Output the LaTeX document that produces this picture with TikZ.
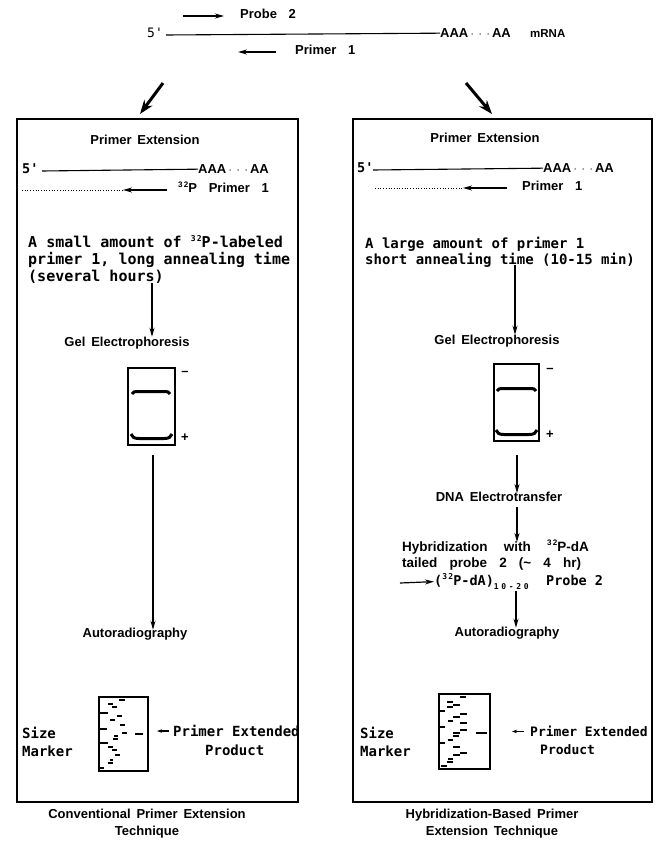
\documentclass[tikz,border=0pt]{standalone}
\usepackage{fontspec}
\setmainfont{Liberation Sans}
\newfontfamily\monof{DejaVu Sans Mono}
\usetikzlibrary{arrows.meta}
\newcommand\supr[1]{\raisebox{0.8ex}{\fontsize{8}{8}\selectfont #1}}
\newcommand\subr[1]{\raisebox{-0.5ex}{\fontsize{8}{8}\selectfont #1}}
\newcommand\wsp{\hspace{0.45em}}
\newcommand\wwsp{\hspace{0.9em}}
\begin{document}
\begin{tikzpicture}[x=1pt,y=-1pt,
  sb/.style={font=\bfseries\fontsize{13}{15}\selectfont, inner sep=0pt},
  mt/.style={font=\monof\bfseries\fontsize{15}{17}\selectfont, inner sep=0pt, align=left},
  mtr/.style={font=\monof\bfseries\fontsize{13.5}{15.5}\selectfont, inner sep=0pt, align=left},
  arr/.style={-{Stealth[length=9pt,width=5pt]}, line width=1.2pt},
  bigarr/.style={-{Stealth[length=14pt,width=10pt]}, line width=3pt},
  frame/.style={draw, line width=1.1pt},
  gelbox/.style={draw, line width=1.6pt, inner sep=0pt},
  band/.style={line width=3pt},
  dots/.style={line width=0.7pt, dash pattern=on 0.8pt off 1.9pt},
  strand/.style={line width=1.1pt}
]
\useasboundingbox (0,0) rectangle (661,843);

% ---------------- top: mRNA ----------------
\coordinate (p2a) at (183,16); \coordinate (p2b) at (224,16);
\draw[arr] (p2a) -- (p2b);
\node[sb, anchor=mid west] (probe2) at (240,16) {Probe\wwsp 2};
\node[mt, font=\monof\fontsize{13}{15}\selectfont, anchor=mid west] (five0) at (147,35) {5'};
\coordinate (m0) at (166,35);
\node[sb, anchor=mid west] (aaa0) at (440,35) {AAA\,$\cdot\,\cdot\,\cdot$\,AA};
\draw[strand] (m0) -- (aaa0.west);
\node[sb, font=\bfseries\fontsize{11.5}{13}\selectfont, anchor=mid west] (mrna) at (530,35) {mRNA};
\coordinate (p1a) at (276,52); \coordinate (p1b) at (238,52);
\draw[arr] (p1a) -- (p1b);
\node[sb, anchor=mid west] (primer0) at (295,52) {Primer\wwsp 1};

% ---------------- boxes ----------------
\node[frame, minimum width=281pt, minimum height=683pt, inner sep=0pt] (boxL) at (157.5,460.5) {};
\node[frame, minimum width=299pt, minimum height=683pt, inner sep=0pt] (boxR) at (502.5,460.5) {};
\coordinate (bl0) at (163,83);
\coordinate (bl1) at (140,114);
\coordinate (br0) at (466,83);
\coordinate (br1) at (492,114);
\draw[bigarr] (bl0) -- (bl1);
\draw[bigarr] (br0) -- (br1);

% ================= LEFT COLUMN =================
\node[sb] (titleL) at (145,140) {Primer\wsp Extension};
\node[mt, font=\monof\bfseries\fontsize{13.5}{15}\selectfont, anchor=mid west] (fiveL) at (22,171) {5'};
\node[sb, anchor=mid west] (aaaL) at (198,171) {AAA\,$\cdot\,\cdot\,\cdot$\,AA};
\draw[strand] (42,171) -- (aaaL.west);
\coordinate (dL0) at (22,190);
\coordinate (dL1) at (123,190);
\draw[dots] (dL0) -- (dL1);
\node[sb, anchor=mid west] (primL) at (178,190) {\supr{3\,2}P\wwsp Primer\wwsp 1};
\draw[arr] (167,190) -- (dL1);
\node[mt, anchor=north west] (parL) at (28,235)
  {A small amount of \supr{3\,2}P-labeled\\primer 1, long annealing time\\(several hours)};
\node[sb] (gelTL) at (127,343) {Gel\wsp Electrophoresis};
\node[gelbox, minimum width=47pt, minimum height=77pt] (gelL) at (151.5,406.5) {};
\coordinate (aL0) at (152,283);
\draw[arr] (aL0) -- (aL0 |- gelTL.north);
\draw[band] (132,394) .. controls (133,392) and (134,391.5) .. (138,391.5) -- (164,391.5) .. controls (168,391.5) and (169,392) .. (170,394);
\draw[band] (131,434) .. controls (132,437) and (134,438.5) .. (139,438.5) -- (164,438.5) .. controls (169,438.5) and (171,437) .. (172,434);
\node[sb] (minusL) at (185,373) {\textendash};
\node[sb] (plusL) at (185,438) {+};
\node[sb] (autoL) at (135,634) {Autoradiography};
\coordinate (aL1) at (153,455);
\draw[arr] (aL1) -- ([yshift=-2pt]aL1 |- autoL.north);
\node[gelbox, line width=1.5pt, minimum width=49pt, minimum height=74pt] (filmL) at (123.5,734) {};
\foreach \a/\b/\y in {119/125/700, 108/113/704, 112/117/707, 100/108/713, 117/122/716, 110/115/720, 120/125/725, 100/107/729, 122/127/733, 114/118/736, 113/118/739, 100/108/743, 108/113/747, 112/117/750, 115/120/755, 110/113/760, 108/113/763, 99/104/768}
  \draw[line width=2pt] (\a,\y) -- (\b,\y);
\draw[line width=1.4pt] (135,734) -- (143,734);
\node[mt, font=\monof\bfseries\fontsize{14}{16}\selectfont, anchor=mid west] (pepL) at (173,734) {Primer Extended};
\draw[arr, -{Stealth[length=5pt,width=3.5pt]}] (pepL.west) ++(-4,0) -- ++(-12,0);
\node[mt, font=\monof\bfseries\fontsize{14}{16}\selectfont, anchor=mid west] (prodL) at (205,753) {Product};
\node[mt, font=\monof\bfseries\fontsize{14}{18}\selectfont, anchor=north west] (sizeL) at (22,727) {Size\\Marker};
\node[sb, align=center, font=\bfseries\fontsize{13}{17}\selectfont] (capL) at (147,824) {Conventional\wsp Primer\wsp Extension\\Technique};

% ================= RIGHT COLUMN =================
\node[sb] (titleR) at (485,138) {Primer\wsp Extension};
\node[mt, font=\monof\bfseries\fontsize{13.5}{15}\selectfont, anchor=mid west] (fiveR) at (357,170) {5'};
\node[sb, anchor=mid west] (aaaR) at (543,170) {AAA\,$\cdot\,\cdot\,\cdot$\,AA};
\draw[strand] (373,170) -- (aaaR.west);
\coordinate (dR0) at (375,188);
\coordinate (dR1) at (463,188);
\draw[dots] (dR0) -- (dR1);
\node[sb, anchor=mid west] (primR) at (522,188) {Primer\wwsp 1};
\draw[arr] (507,188) -- (dR1);
\node[mt, font=\monof\bfseries\fontsize{14}{15.5}\selectfont, anchor=north west] (parR) at (365,237)
  {A large amount of primer 1\\short annealing time (10-15 min)};
\node[sb] (gelTR) at (497,341) {Gel\wsp Electrophoresis};
\node[gelbox, minimum width=45pt, minimum height=77pt] (gelR) at (516.5,402.5) {};
\coordinate (aR0) at (515,265);
\draw[arr] (aR0) -- (aR0 |- gelTR.north);
\draw[band] (497,391) .. controls (498,389) and (499,388.5) .. (503,388.5) -- (530,388.5) .. controls (534,388.5) and (535,389) .. (536,391);
\draw[band] (496,430) .. controls (497,433) and (499,434.5) .. (504,434.5) -- (529,434.5) .. controls (534,434.5) and (536,433) .. (537,430);
\node[sb] (minusR) at (550,370) {\textendash};
\node[sb] (plusR) at (550,435) {+};
\node[sb] (dnaR) at (499,497) {DNA\wsp Electrotransfer};
\coordinate (aR1) at (517,455);
\draw[arr] (aR1) -- ([yshift=-1pt]aR1 |- dnaR.north);
\node[sb, anchor=north west, align=left, font=\bfseries\fontsize{13.5}{16}\selectfont] (hybR) at (402,540)
  {Hybridization\hspace{1.2em}with\hspace{1.2em}\supr{3\,2}P-dA\\tailed\hspace{0.9em}probe\hspace{0.9em}2\hspace{0.9em}(\char`\~\hspace{0.9em}4\hspace{0.9em}hr)};
\coordinate (aR2) at (517,507);
\draw[arr] (aR2) -- ([yshift=-2pt]aR2 |- hybR.north);
\node[mtr, anchor=mid west] (tailR) at (434,583) {(\supr{3\,2}P-dA)\subr{1\,\,0\,\,-\,\,2\,\,0}\hspace{1.3em}Probe 2};
\coordinate (tR0) at (400,583);
\draw[arr] (tR0) -- (tailR.west);
\node[sb] (autoR) at (507,633) {Autoradiography};
\coordinate (aR3) at (516,591);
\draw[arr] (aR3) -- ([yshift=-1pt]aR3 |- autoR.north);
\node[gelbox, line width=1.5pt, minimum width=51pt, minimum height=75pt] (filmR) at (464.5,731.5) {};
\foreach \a/\b/\y in {460/466/697, 447/453/702, 453/460/705, 447/453/707, 440/445/711, 460/467/714, 453/460/717, 448/453/721, 460/467/723, 440/445/727, 460/467/730, 453/460/733, 453/459/736, 448/453/740, 440/445/743, 453/460/747, 460/467/753, 453/460/755, 448/453/759, 447/453/762, 441/447/766}
  \draw[line width=2pt] (\a,\y) -- (\b,\y);
\draw[line width=1.6pt] (476,733) -- (487,733);
\node[mtr, font=\monof\bfseries\fontsize{13}{15}\selectfont, anchor=mid west] (pepR) at (530,734) {Primer Extended};
\draw[arr, -{Stealth[length=5pt,width=3.5pt]}] (pepR.west) ++(-6,0) -- ++(-12,0);
\node[mtr, font=\monof\bfseries\fontsize{13}{15}\selectfont, anchor=mid west] (prodR) at (540,752) {Product};
\node[mt, font=\monof\bfseries\fontsize{14}{18}\selectfont, anchor=north west] (sizeR) at (360,727) {Size\\Marker};
\node[sb, align=center, font=\bfseries\fontsize{13}{17}\selectfont] (capR) at (492,824) {Hybridization-Based\wsp Primer\\Extension\wsp Technique};
\end{tikzpicture}
\end{document}
